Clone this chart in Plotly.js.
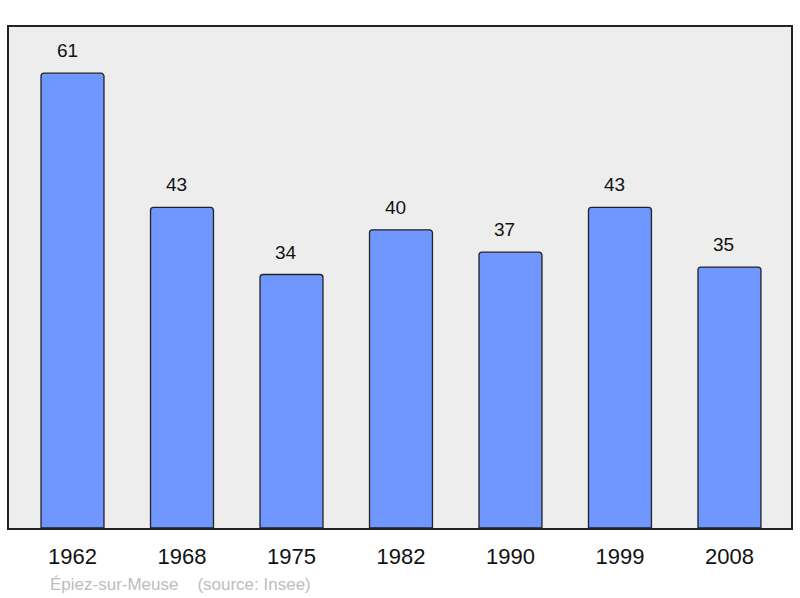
<!DOCTYPE html>
<html>
<head>
<meta charset="utf-8">
<script src="https://cdn.plot.ly/plotly-3.0.1.min.js"></script>
<style>
  html, body { margin: 0; padding: 0; background: #fff; }
  #chart { width: 800px; height: 598px; }
</style>
</head>
<body>
<div id="chart"></div>
<script>
// population by census year
const years = ["1962", "1968", "1975", "1982", "1990", "1999", "2008"];
const population = [61, 43, 34, 40, 37, 43, 35];
const footnote = "Épiez-sur-Meuse\u00a0\u00a0\u00a0\u00a0(source: Insee)";

const idx = years.map((y, i) => i);

const trace = {
    type: "bar",
    x: idx,
    y: population,
    width: 0.575,
    marker: {
        color: "#7096ff",
        line: { color: "#222", width: 1.3 },
        cornerradius: 3
    },
    hoverinfo: "skip"
};

// value labels above each bar (sit a little left of centre, like the original)
const labels = population.map((v, i) => ({
    x: i, y: v, xref: "x", yref: "y",
    text: String(v), showarrow: false,
    yanchor: "bottom", yshift: 10, xshift: -5.5,
    font: { size: 19, color: "#111" }
}));

labels.push({
    xref: "paper", yref: "paper",
    x: 0.05, y: -0.112, xanchor: "left", yanchor: "middle",
    text: footnote, showarrow: false,
    font: { size: 17, color: "#bdbdbd" }
});

const layout = {
    width: 800,
    height: 598,
    margin: { l: 9, r: 9, t: 27, b: 70 },
    paper_bgcolor: "#fff",
    plot_bgcolor: "#ededed",
    font: { family: "Liberation Sans, Arial, sans-serif", color: "#111" },
    showlegend: false,
    xaxis: {
        range: [-0.58, 6.562],
        tickvals: idx,
        ticktext: years,
        tickfont: { size: 22 },
        ticks: "",
        ticklabelstandoff: 8,
        showgrid: false,
        zeroline: false,
        showline: true, mirror: true,
        linecolor: "#222", linewidth: 2
    },
    yaxis: {
        range: [0, 67.2],
        showticklabels: false,
        ticks: "",
        showgrid: false,
        zeroline: false,
        showline: true, mirror: true,
        linecolor: "#222", linewidth: 2
    },
    annotations: labels
};

Plotly.newPlot("chart", [trace], layout, { displayModeBar: false, staticPlot: true });
</script>
</body>
</html>
